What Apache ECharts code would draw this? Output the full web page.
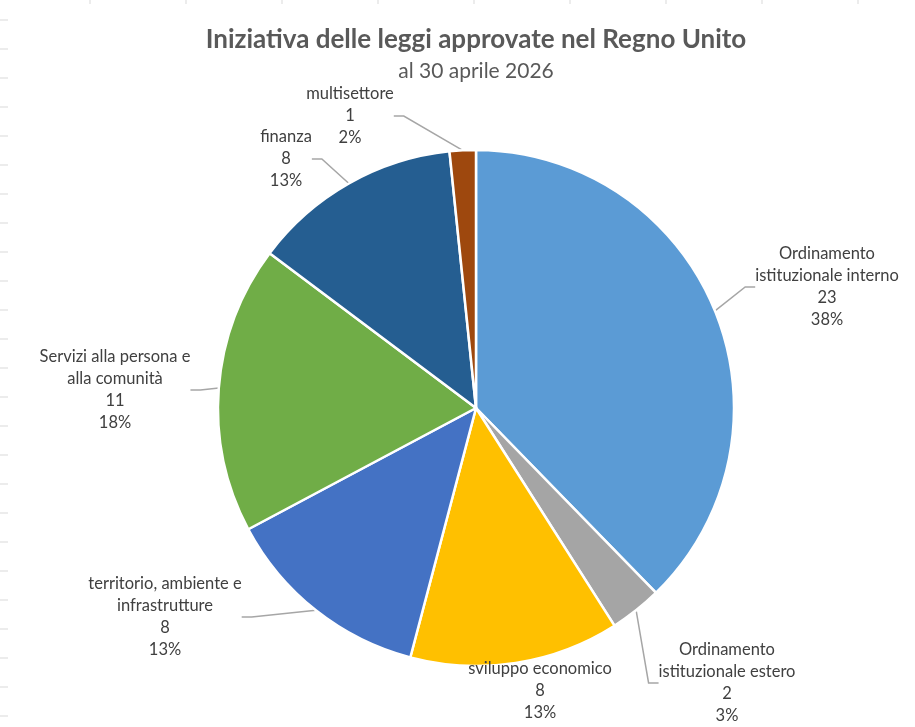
<!DOCTYPE html>
<html>
<head>
<meta charset="utf-8">
<script src="https://cdn.jsdelivr.net/npm/echarts@6/dist/echarts.min.js"></script>
<style>
  html, body { margin: 0; padding: 0; background: #fff; }
  #main { width: 915px; height: 727px; }
</style>
</head>
<body>
<div id="main"></div>
<script>
const categories = [
  'Ordinamento\nistituzionale interno',
  'Ordinamento\nistituzionale estero',
  'sviluppo economico',
  'territorio, ambiente e\ninfrastrutture',
  'Servizi alla persona e\nalla comunità',
  'finanza',
  'multisettore'
];
const values = [23, 2, 8, 8, 11, 8, 1];
const colors = ['#5B9BD5', '#A5A5A5', '#FFC000', '#4472C4', '#70AD47', '#255E91', '#9E480E'];
const titleText = 'Iniziativa delle leggi approvate nel Regno Unito';
const subtitleText = 'al 30 aprile 2026';

// where each label block sits (centre of the text)
const labelSpots = [
  [827, 287], [727, 683], [540, 691], [165, 617], [115, 390], [286, 159], [350, 116]
];

// faint spreadsheet cell borders peeking at the edges
const cellMarks = [];
for (let x = 90; x < 915; x += 96) {
  cellMarks.push({ type: 'line', shape: { x1: x, y1: 0, x2: x, y2: 4 }, style: { stroke: '#d9d9d9', lineWidth: 1 } });
}
for (let y = 20; y < 727; y += 29) {
  cellMarks.push({ type: 'line', shape: { x1: 0, y1: y, x2: 8, y2: y }, style: { stroke: '#d9d9d9', lineWidth: 1 } });
}

// title sits over the pie centre, not the page centre
cellMarks.push({
  type: 'text', x: 476, y: 40,
  style: { text: titleText, align: 'center', verticalAlign: 'middle',
    font: 'bold 26px Lato', fill: '#595959' }
});
cellMarks.push({
  type: 'text', x: 476, y: 71,
  style: { text: subtitleText, align: 'center', verticalAlign: 'middle',
    font: '21px Lato', fill: '#595959' }
});

const chart = echarts.init(document.getElementById('main'));
chart.setOption({
  backgroundColor: '#fff',
  animation: false,
  graphic: cellMarks,
  series: [{
    type: 'pie',
    center: [476, 408],
    radius: 258,
    startAngle: 90,
    clockwise: true,
    percentPrecision: 0,
    itemStyle: { borderColor: '#fff', borderWidth: 2.5 },
    label: {
      formatter: '{b}\n{c}\n{d}%',
      fontFamily: 'Lato',
      fontSize: 16.5,
      lineHeight: 22,
      color: '#404040',
      align: 'center'
    },
    labelLine: {
      show: true,
      length: 10,
      length2: 10,
      lineStyle: { color: '#a6a6a6', width: 1.5 }
    },
    labelLayout: function (p) {
      const s = labelSpots[p.dataIndex];
      return { x: s[0], y: s[1], align: 'center', verticalAlign: 'middle' };
    },
    emphasis: { disabled: true },
    data: categories.map((c, i) => ({ name: c, value: values[i], itemStyle: { color: colors[i] } }))
  }]
});
</script>
</body>
</html>
